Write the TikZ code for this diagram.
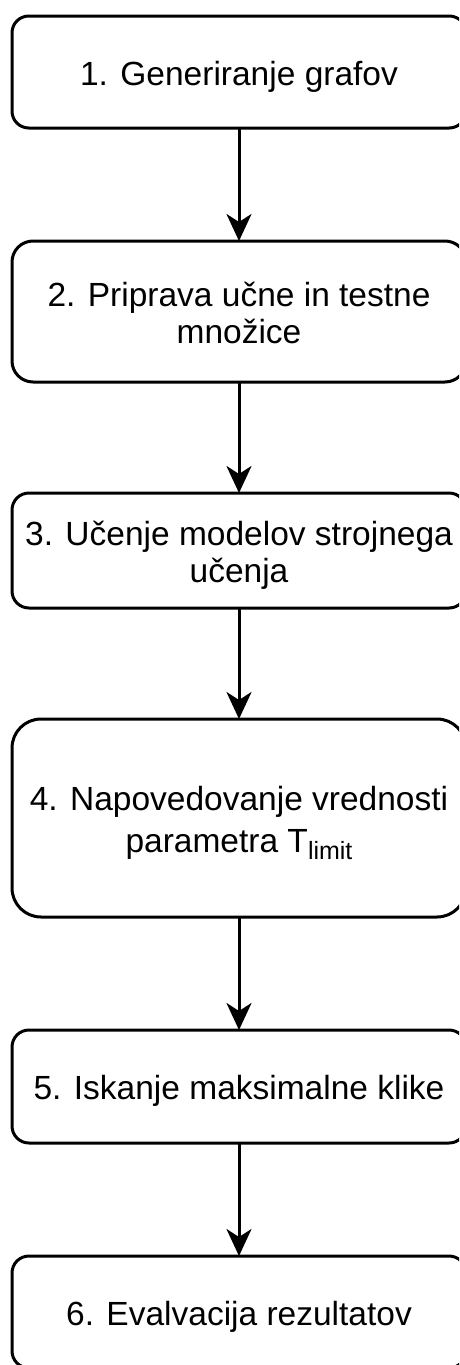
\documentclass[tikz,border=0pt]{standalone}
\usepackage{fontspec}
\setmainfont{Liberation Sans}
\usetikzlibrary{arrows.meta}
\begin{document}
\begin{tikzpicture}[x=1pt,y=1pt,
  stepbox/.style={draw, line width=3pt, minimum width=454pt, inner sep=0pt, outer sep=0pt,
    align=center, text height=30pt, text depth=4pt, font=\fontsize{33.5}{37}\selectfont},
  flow/.style={-{Stealth[length=27pt,width=25pt,inset=8pt]}, line width=3pt}]
\useasboundingbox (0,0) rectangle (459,-1365);
\clip (0,0) rectangle (459,-1365);
\node[stepbox, minimum height=112pt, rounded corners=16.8pt] (b1) at (239,-72) {1. Generiranje grafov};
\node[stepbox, minimum height=141pt, rounded corners=21pt, text height=67pt] (b2) at (239,-311.5) {2. Priprava učne in testne\\množice};
\node[stepbox, minimum height=115pt, rounded corners=17pt, text height=67pt] (b3) at (239,-550.5) {3. Učenje modelov strojnega\\učenja};
\node[stepbox, minimum height=198pt, rounded corners=29pt, text height=72pt, font=\fontsize{33.5}{42}\selectfont] (b4) at (239,-818) {4. Napovedovanje vrednosti\\parametra T\raisebox{-7pt}{\fontsize{25}{25}\selectfont limit}};
\node[stepbox, minimum height=113pt, rounded corners=17pt] (b5) at (239,-1086.5) {5. Iskanje maksimalne klike};
\node[stepbox, minimum height=112pt, rounded corners=17pt] (b6) at (239,-1312) {6. Evalvacija rezultatov};
\draw[flow] (b1) -- (b2);
\draw[flow] (b2) -- (b3);
\draw[flow] (b3) -- (b4);
\draw[flow] (b4) -- (b5);
\draw[flow] (b5) -- (b6);
\end{tikzpicture}
\end{document}
